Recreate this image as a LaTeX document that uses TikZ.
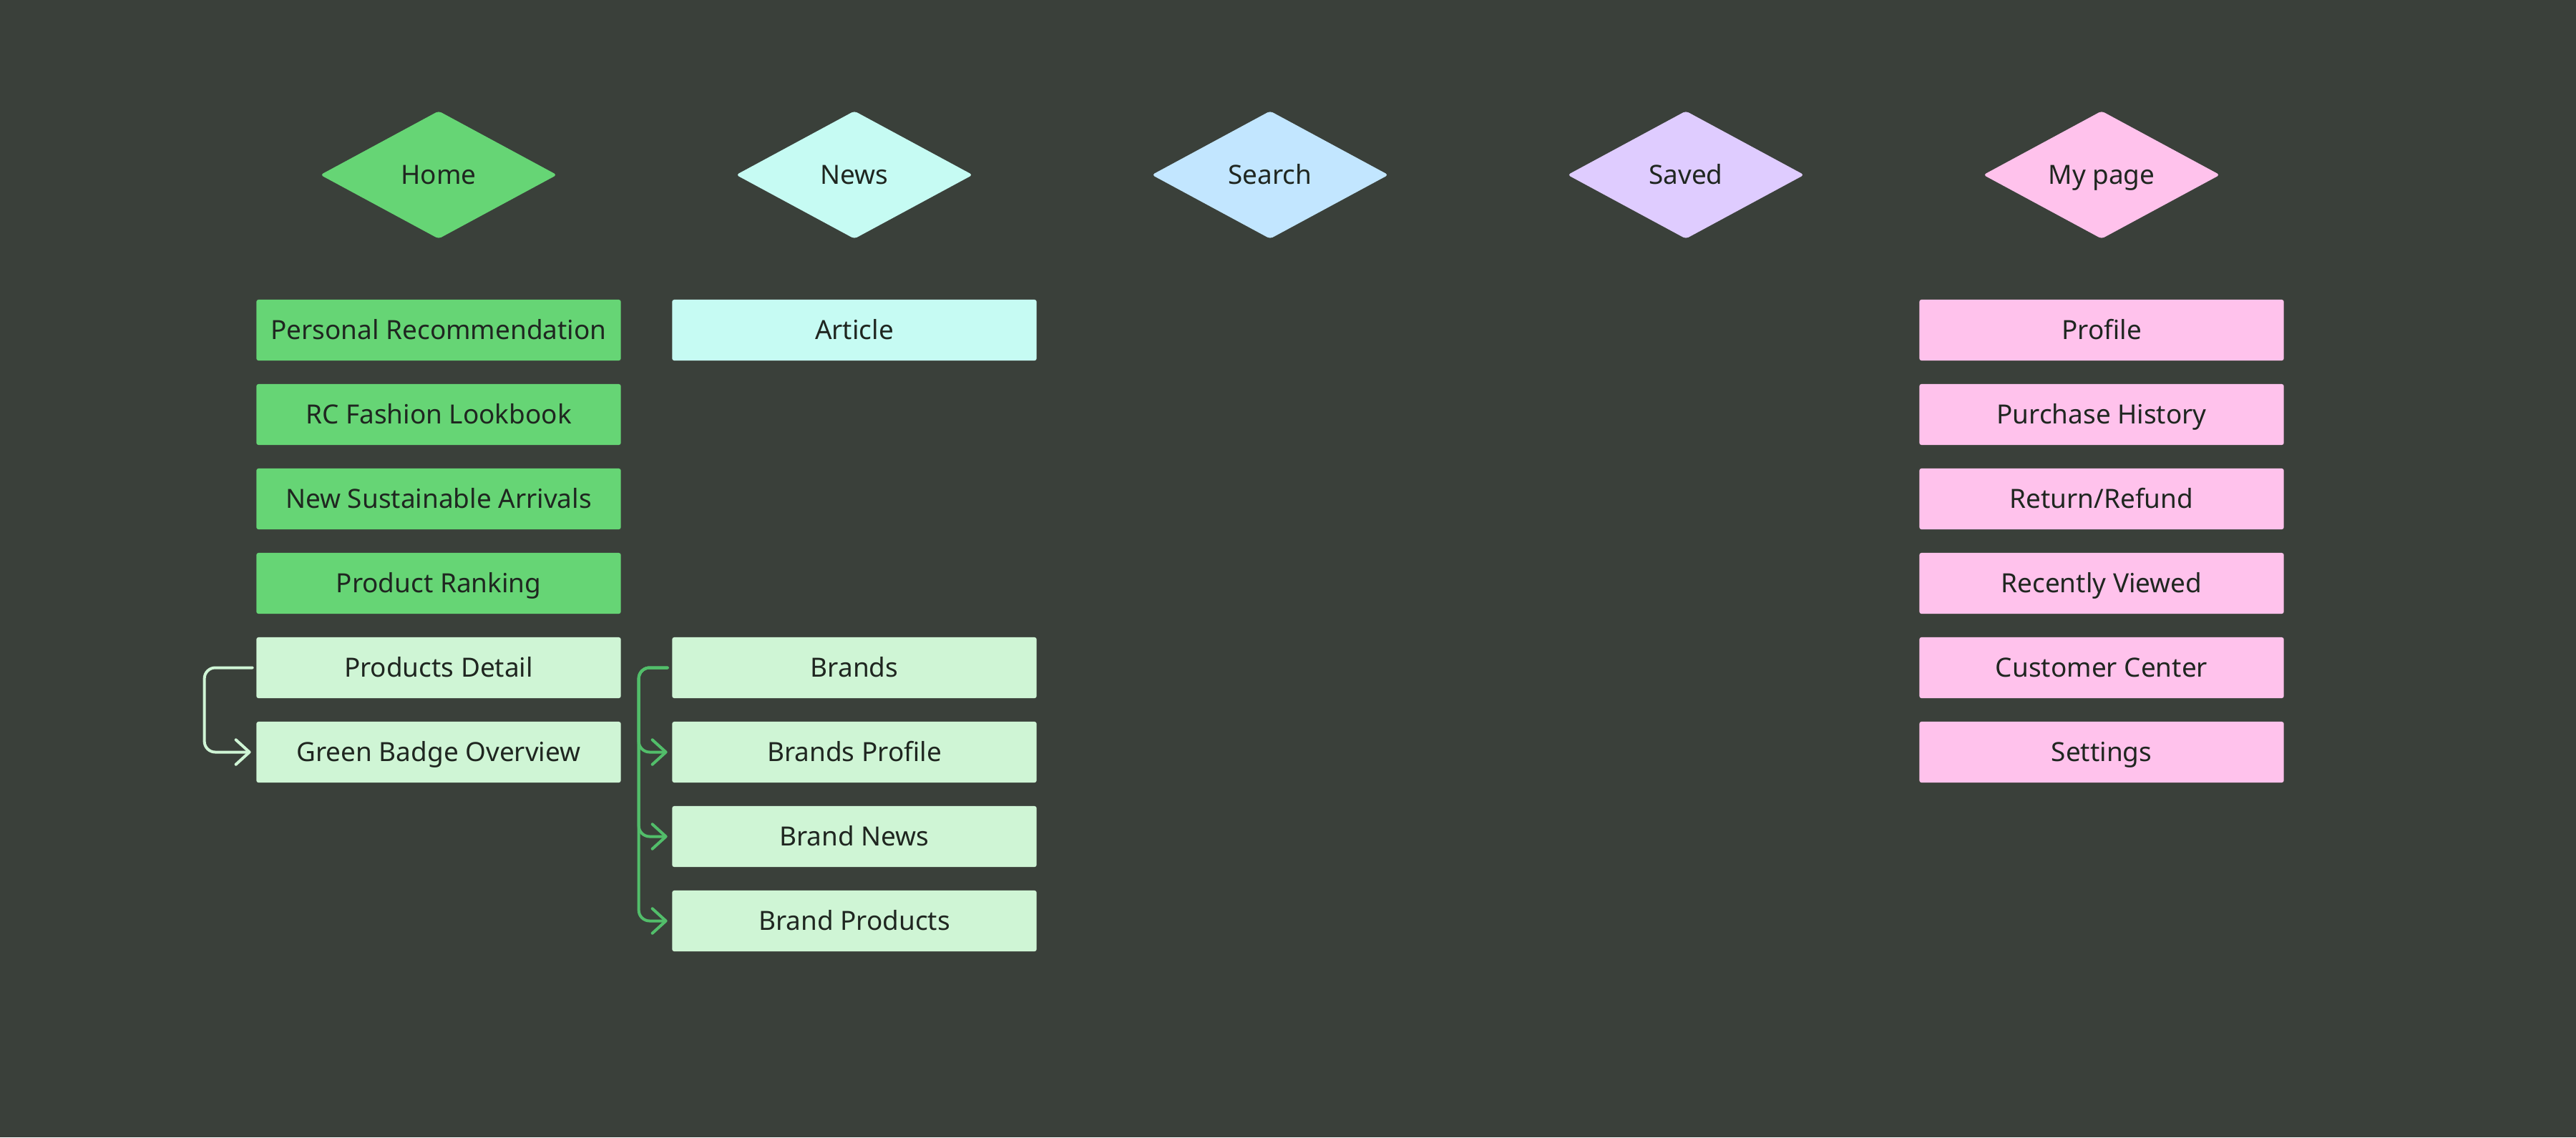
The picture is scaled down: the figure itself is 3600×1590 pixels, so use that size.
\documentclass[tikz,border=0pt]{standalone}
\usepackage{fontspec}
\setmainfont{Noto Sans}
\usetikzlibrary{arrows.meta,shapes.geometric}

\definecolor{bgdark}{HTML}{3A403A}
\definecolor{homegreen}{HTML}{66D575}
\definecolor{newscyan}{HTML}{C6FBF3}
\definecolor{searchblue}{HTML}{C2E6FF}
\definecolor{savedlilac}{HTML}{DFCCFF}
\definecolor{mypink}{HTML}{FFC2EC}
\definecolor{palegreen}{HTML}{CFF5D5}
\definecolor{treegreen}{HTML}{52BE6A}
\definecolor{inkdark}{HTML}{1F2620}

\tikzset{
  label font/.style={text=inkdark, font=\fontsize{10.5}{12}\selectfont,
    text height=8pt, text depth=0.5pt},
  tab/.style={diamond, aspect=1.85, minimum width=3.31cm, minimum height=1.79cm,
    inner sep=0pt, rounded corners=1.2pt, label font},
  screen/.style={rectangle, minimum width=5.09cm, minimum height=0.85cm,
    inner sep=0pt, rounded corners=0.8pt, label font},
  link/.style={line width=1.14pt, rounded corners=4.3pt, line cap=round, line join=round,
    -{Straight Barb[length=5.4pt, width=9.8pt, line cap=round, line join=round]}}
}

\begin{document}
\begin{tikzpicture}[x=0.01cm,y=-0.01cm]
\fill[bgdark] (0,0) rectangle (3600,1590);
\useasboundingbox (0,0) rectangle (3600,1590);

% tab bar
\node[tab, fill=homegreen] (home) at (613,244.5) {Home};
\node[tab, fill=newscyan] (news) at (1194,244.5) {News};
\node[tab, fill=searchblue] (search) at (1775,244.5) {Search};
\node[tab, fill=savedlilac] (saved) at (2356,244.5) {Saved};
\node[tab, fill=mypink] (mypage) at (2937,244.5) {My page};

% home
\node[screen, fill=homegreen] (recommend) at (613,461.5) {Personal Recommendation};
\node[screen, fill=homegreen] (lookbook) at (613,579.5) {RC Fashion Lookbook};
\node[screen, fill=homegreen] (arrivals) at (613,697.5) {New Sustainable Arrivals};
\node[screen, fill=homegreen] (ranking) at (613,815.5) {Product Ranking};
\node[screen, fill=palegreen] (detail) at (613,933.5) {Products Detail};
\node[screen, fill=palegreen] (badge) at (613,1051.5) {Green Badge Overview};

% news
\node[screen, fill=newscyan] (article) at (1194,461.5) {Article};
\node[screen, fill=palegreen] (brands) at (1194,933.5) {Brands};
\node[screen, fill=palegreen] (brandprofile) at (1194,1051.5) {Brands Profile};
\node[screen, fill=palegreen] (brandnews) at (1194,1169.5) {Brand News};
\node[screen, fill=palegreen] (brandproducts) at (1194,1287.5) {Brand Products};

% my page
\node[screen, fill=mypink] (profile) at (2937,461.5) {Profile};
\node[screen, fill=mypink] (history) at (2937,579.5) {Purchase History};
\node[screen, fill=mypink] (refund) at (2937,697.5) {Return/Refund};
\node[screen, fill=mypink] (viewed) at (2937,815.5) {Recently Viewed};
\node[screen, fill=mypink] (center) at (2937,933.5) {Customer Center};
\node[screen, fill=mypink] (settings) at (2937,1051.5) {Settings};

% links
\draw[link, palegreen] ([xshift=-0.05cm]detail.west) -- ++(-67,0) |- ([xshift=-0.07cm]badge.west);
\draw[link, treegreen] ([xshift=-0.06cm]brands.west) -- ++(-40,0) |- ([xshift=-0.06cm]brandprofile.west);
\draw[link, treegreen] ([xshift=-0.06cm]brands.west) -- ++(-40,0) |- ([xshift=-0.06cm]brandnews.west);
\draw[link, treegreen] ([xshift=-0.06cm]brands.west) -- ++(-40,0) |- ([xshift=-0.06cm]brandproducts.west);
\end{tikzpicture}
\end{document}
